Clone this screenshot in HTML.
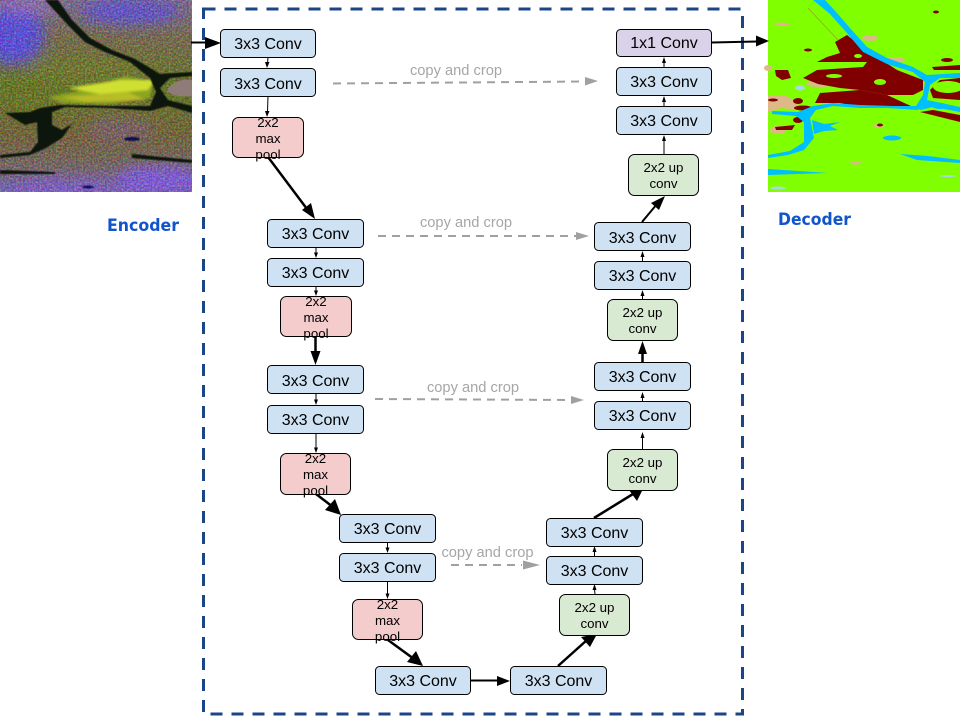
<!DOCTYPE html>
<html><head><meta charset="utf-8"><style>
html,body{margin:0;padding:0;background:#fff}
svg{display:block}
.b{fill:#cfe2f3;stroke:#000;stroke-width:1}
.p{fill:#f4cccc;stroke:#000;stroke-width:1}
.g{fill:#d9ead3;stroke:#000;stroke-width:1}
.u{fill:#d9d2e9;stroke:#000;stroke-width:1}
text{font-family:"Liberation Sans",sans-serif;text-anchor:middle;fill:#000}
.t{font-size:16px}
.s{font-size:13.3px}
.c{font-size:14.67px;fill:#a6a6a6}
.h{font-family:"DejaVu Sans",sans-serif;font-weight:bold;font-size:17px;fill:#1155cc;text-anchor:start}
.w{fill:none;stroke:#000}
.d{fill:none;stroke:#a0a0a0;stroke-width:2;stroke-dasharray:8 6}
</style></head><body>
<svg width="960" height="720" viewBox="0 0 960 720" xmlns="http://www.w3.org/2000/svg">
<defs>
<linearGradient id="eg" x1="0" y1="0" x2="0" y2="1">
<stop offset="0" stop-color="#806a98"/><stop offset=".2" stop-color="#7a6c48"/><stop offset=".45" stop-color="#667a18"/><stop offset=".7" stop-color="#746430"/><stop offset=".86" stop-color="#786660"/><stop offset="1" stop-color="#7c60c8"/>
</linearGradient>
<filter id="n" x="0" y="0" width="100%" height="100%" color-interpolation-filters="sRGB"><feTurbulence type="fractalNoise" baseFrequency=".55" numOctaves="2" seed="3"/><feColorMatrix values="3 0 0 0 -1.1 0 3 0 0 -1.1 0 0 3 0 -1.1 0 0 0 0 .24"/></filter>
<filter id="bl" x="-30%" y="-30%" width="160%" height="160%"><feGaussianBlur stdDeviation="7"/></filter>
<filter id="bs" x="-20%" y="-20%" width="140%" height="140%"><feGaussianBlur stdDeviation="1.2"/></filter>
<filter id="sm"><feGaussianBlur stdDeviation=".4"/></filter>
<clipPath id="ce"><rect x="0" y="0" width="192" height="192"/></clipPath>
</defs>

<!-- Encoder image -->
<g clip-path="url(#ce)">
<rect width="192" height="192" fill="url(#eg)"/>
<g filter="url(#bl)">
<ellipse cx="12" cy="35" rx="32" ry="30" fill="#5a48f0"/>
<ellipse cx="130" cy="12" rx="50" ry="12" fill="#6050e0"/>
<ellipse cx="30" cy="5" rx="30" ry="8" fill="#9a70c0"/>
<ellipse cx="160" cy="180" rx="45" ry="14" fill="#8458f0"/>
<ellipse cx="60" cy="188" rx="50" ry="6" fill="#8858e8"/>
<ellipse cx="120" cy="130" rx="35" ry="12" fill="#805e68"/>
<ellipse cx="90" cy="70" rx="60" ry="12" fill="#747c20"/>
<ellipse cx="30" cy="100" rx="25" ry="15" fill="#6a7818"/>
</g>
<rect width="192" height="192" filter="url(#n)"/>
<g filter="url(#bs)">
<path d="M48 97 L85 90 L125 76 L153 82 L150 98 L110 104 L62 103Z" fill="#90aa1c" opacity=".9"/>
<path d="M68 88 L120 80 L155 80 L148 90 L100 94Z" fill="#d0e030"/>
<path d="M62 97 L128 92 L145 100 L85 102Z" fill="#b8bc28"/>
</g>
<g fill="#0b1208" filter="url(#sm)">
<path d="M45 0 L58 0 L72 20 L90 38 L112 50 L135 59 L160 74 L192 72 L192 76 L170 78 L160 88 L168 100 L192 106 L192 113 L168 106 L150 111 L110 108 L65 107 L52 112 L52 125 L62 130 L72 124 L62 138 L46 148 L30 155 L0 158 L0 155 L30 152 L38 142 L37 122 L25 125 L5 113 L30 112 L40 108 L60 105 L110 106 L150 106 L156 92 L150 78 L130 62 L105 52 L85 42 L68 25Z"/>
<path d="M0 170 L55 172 L55 174 L0 174Z"/>
<path d="M132 154 L192 160 L192 163 L132 158Z"/>
<ellipse cx="132" cy="139" rx="8" ry="2" fill="#101050"/>
<ellipse cx="88" cy="187" rx="6" ry="1.500" fill="#101060"/>
</g>
<path d="M168 88 Q178 78 192 80 L192 96 Q176 98 168 92Z" fill="#8f7c78"/>
</g>

<!-- Decoder image -->
<g transform="translate(768,0)">
<rect width="192" height="192" fill="#80ff00"/>
<g fill="#deb887">
<path d="M0 96 L18 96 L30 102 L28 110 L14 108 L0 112Z"/>
<ellipse cx="10" cy="130" rx="8" ry="4"/>
<ellipse cx="125" cy="60" rx="12" ry="3"/>
<ellipse cx="102" cy="38" rx="8" ry="3"/>
<ellipse cx="110" cy="126" rx="5" ry="2"/>
<ellipse cx="52" cy="84" rx="14" ry="3"/>
<ellipse cx="14" cy="24" rx="8" ry="1.500"/>
<ellipse cx="0" cy="68" rx="4" ry="3"/>
<ellipse cx="88" cy="163" rx="6" ry="1.500"/>
</g>
<g fill="#800000">
<path d="M79 35 L89 43 L109 57 L129 70 L155 80 L155 90 L145 95 L119 95 L92 90 L72 88 L50 84 L35 78 L49 70 L79 68 L95 67 L99 62 L75 62 L49 62 L59 57 L72 53 L67 42Z"/>
<path d="M47 103 L52 93 L92 90 L119 95 L145 107 L119 108 L92 107 L72 103Z"/>
<path d="M7 70 L20 70 L23 78 L14 80 L8 76Z"/>
<path d="M162 90 L172 80 L192 78 L192 100 L165 98Z"/>
<path d="M152 112 L165 110 L192 115 L192 122 L172 117Z"/>
<path d="M164 67 L192 65 L192 70 L166 70Z"/>
<ellipse cx="30" cy="101" rx="5" ry="3"/>
<ellipse cx="35" cy="108" rx="9" ry="2.500"/>
<ellipse cx="30" cy="120" rx="5" ry="3"/>
<path d="M7 127 L27 125 L24 130 L8 130Z"/>
<ellipse cx="179" cy="60" rx="6" ry="2"/>
<ellipse cx="168" cy="12" rx="3" ry="1.500"/>
<ellipse cx="40" cy="50" rx="4" ry="1.500"/>
<ellipse cx="5" cy="100" rx="5" ry="1.500"/>
<ellipse cx="112" cy="125" rx="3" ry="1.500"/>
</g>
<g fill="#80ff00">
<ellipse cx="180" cy="87" rx="15" ry="6"/>
<ellipse cx="66" cy="76" rx="8" ry="2"/>
<ellipse cx="112" cy="82" rx="6" ry="3"/>
<ellipse cx="90" cy="56" rx="4" ry="2"/>
</g>
<g fill="#00bfff">
<path d="M45 0 L57 0 L69 13 L82 28 L99 47 L119 58 L145 67 L159 75 L192 73 L192 78 L172 78 L162 85 L159 100 L192 107 L192 112 L165 107 L152 110 L148 106 L155 95 L157 82 L145 72 L119 64 L95 52 L78 32 L62 14Z"/>
<path d="M4 111 L30 112 L45 106 L65 103 L92 105 L125 106 L152 106 L150 110 L119 108 L92 108 L65 106 L48 110 L42 118 L46 138 L36 150 L20 155 L0 158 L0 155 L22 151 L36 142 L36 122 L28 116 L4 114Z"/>
<path d="M44 120 L56 124 L72 122 L62 126 L70 130 L56 131 L46 134Z"/>
<path d="M132 154 L160 156 L192 160 L192 163 L149 160Z"/>
<path d="M0 169 L60 173 L0 175Z"/>
<ellipse cx="124" cy="138" rx="9" ry="2.500"/>
<ellipse cx="172" cy="106" rx="8" ry="3"/>
</g>
<ellipse cx="32" cy="88" rx="5" ry="2.500" fill="#a8d8e8"/>
<ellipse cx="10" cy="188" rx="8" ry="1.500" fill="#a8d8e8"/>
<ellipse cx="180" cy="176" rx="8" ry="1" fill="#a8d8e8"/>
<path d="M40 8 L70 40" stroke="#a08030" stroke-width=".8" fill="none" opacity=".7"/>
</g>

<!-- Dashed border -->
<rect x="203.500" y="9" width="539" height="705" fill="none" stroke="#1c4587" stroke-width="3" stroke-dasharray="12 9"/>

<!-- Copy and crop -->
<text class="c" x="456" y="75">copy and crop</text>
<text class="c" x="466" y="227">copy and crop</text>
<text class="c" x="473" y="392">copy and crop</text>
<text class="c" x="487.500" y="557">copy and crop</text>
<path class="d" d="M333 83.500 L586 81.500"/><path d="M598 81 L585 77 L585 85.500Z" fill="#a0a0a0"/>
<path class="d" d="M378 236 L577 236"/><path d="M589 236 L576 232 L576 240Z" fill="#a0a0a0"/>
<path class="d" d="M375 399 L572 400"/><path d="M584 400 L571 396 L571 404Z" fill="#a0a0a0"/>
<path class="d" d="M451 565 L522 565"/><path d="M540 565 L523 560.500 L523 569.500Z" fill="#a0a0a0"/>

<!-- Connectors -->
<g>
<path class="w" stroke-width="2" d="M191 42.500 L208 42.500"/><path d="M221 43 L205 37 L205 49Z"/>
<path class="w" d="M268 57 L267.500 64"/><path d="M267 68 L265 62 L269.500 62Z"/>
<path class="w" d="M268 96 L267.500 112"/><path d="M267 117 L265 111 L269.500 111Z"/>
<path class="w" stroke-width="2.500" d="M268 157 L307 209"/><path d="M315 219 L302 210 L311 203Z"/>
<path class="w" d="M316 247 L316 254"/><path d="M316 258 L314 252.500 L318 252.500Z"/>
<path class="w" d="M316 286 L316 292"/><path d="M316 296 L314 290.500 L318 290.500Z"/>
<path class="w" stroke-width="2.500" d="M315.500 336 L315.500 354"/><path d="M315.500 365 L310.500 351 L320.500 351Z"/>
<path class="w" d="M316 393 L316 401"/><path d="M316 405 L314 399.500 L318 399.500Z"/>
<path class="w" d="M316 433 L316 449"/><path d="M316 453 L314 447.500 L318 447.500Z"/>
<path class="w" stroke-width="2.500" d="M316 494 L333 507"/><path d="M341 515 L325 510 L335 499Z"/>
<path class="w" d="M387.500 542 L387.500 549"/><path d="M387.500 553 L385.500 547.500 L389.500 547.500Z"/>
<path class="w" d="M387.500 581 L387.500 595"/><path d="M387.500 599 L385.500 593.500 L389.500 593.500Z"/>
<path class="w" stroke-width="2.500" d="M388 640 L414 659"/><path d="M423 666 L407 662 L416 651Z"/>
<path class="w" stroke-width="2" d="M471 680.500 L499 680.500"/><path d="M510 681 L497 676 L497 686Z"/>
<path class="w" stroke-width="2.500" d="M558 666 L587 640"/><path d="M597 634 L590 647 L581 637Z"/>
<path class="w" d="M595 594 L594.500 589"/><path d="M594.500 584 L592.500 590 L596.500 590Z"/>
<path class="w" d="M594.500 556 L594.500 551"/><path d="M594.500 546 L592.500 552 L596.500 552Z"/>
<path class="w" stroke-width="2.500" d="M594 518 L633 494"/><path d="M643 489 L629 490 L637 501Z"/>
<path class="w" d="M642.500 449 L642.500 437"/><path d="M642.500 432 L640.500 438 L644.500 438Z"/>
<path class="w" d="M642.500 401 L642.500 397"/><path d="M642.500 392 L640.500 398 L644.500 398Z"/>
<path class="w" stroke-width="2.500" d="M642.500 362 L642.500 352"/><path d="M642.500 341 L638 354 L647 354Z"/>
<path class="w" d="M642.500 299 L642.500 295"/><path d="M642.500 290 L640.500 296 L644.500 296Z"/>
<path class="w" d="M642.500 261 L642.500 256"/><path d="M642.500 251 L640.500 257 L644.500 257Z"/>
<path class="w" stroke-width="2" d="M642 222 L657 204"/><path d="M665 196 L651 203 L659 210Z"/>
<path class="w" d="M664 154 L664 140"/><path d="M664 135 L662 141 L666 141Z"/>
<path class="w" d="M664 106 L664 101"/><path d="M664 96 L662 102 L666 102Z"/>
<path class="w" d="M664 67 L664 62"/><path d="M664 57 L662 63 L666 63Z"/>
<path class="w" stroke-width="2" d="M712 42.500 L757 41.500"/><path d="M769 41 L756 35.500 L756 46.500Z"/>
</g>

<!-- Boxes -->
<g>
<rect class="b" x="220.500" y="29.500" width="95" height="28" rx="4"/><rect class="b" x="220.500" y="68.500" width="95" height="28" rx="4"/>
<rect class="b" x="267.500" y="219.500" width="96" height="28" rx="4"/><rect class="b" x="267.500" y="258.500" width="96" height="28" rx="4"/>
<rect class="b" x="267.500" y="365.500" width="96" height="28" rx="4"/><rect class="b" x="267.500" y="405.500" width="96" height="28" rx="4"/>
<rect class="b" x="339.500" y="514.500" width="96" height="28" rx="4"/><rect class="b" x="339.500" y="553.500" width="96" height="28" rx="4"/>
<rect class="b" x="375.500" y="666.500" width="95" height="28" rx="4"/><rect class="b" x="510.500" y="666.500" width="96" height="28" rx="4"/>
<rect class="b" x="546.500" y="518.500" width="96" height="28" rx="4"/><rect class="b" x="546.500" y="556.500" width="96" height="28" rx="4"/>
<rect class="b" x="594.500" y="362.500" width="96" height="28" rx="4"/><rect class="b" x="594.500" y="401.500" width="96" height="28" rx="4"/>
<rect class="b" x="594.500" y="222.500" width="96" height="28" rx="4"/><rect class="b" x="594.500" y="261.500" width="96" height="28" rx="4"/>
<rect class="b" x="616.500" y="67.500" width="95" height="28" rx="4"/><rect class="b" x="616.500" y="106.500" width="95" height="28" rx="4"/>
<rect class="u" x="616.500" y="29.500" width="95" height="27" rx="4"/>
</g>
<g>
<rect class="p" x="232.500" y="117.500" width="71" height="40" rx="6"/>
<rect class="p" x="280.500" y="296.500" width="71" height="40" rx="6"/>
<rect class="p" x="280.500" y="453.500" width="70" height="41" rx="6"/>
<rect class="p" x="352.500" y="599.500" width="70" height="40" rx="6"/>
<rect class="g" x="559.500" y="594.500" width="70" height="41" rx="6"/>
<rect class="g" x="607.500" y="449.500" width="70" height="41" rx="6"/>
<rect class="g" x="607.500" y="299.500" width="70" height="41" rx="6"/>
<rect class="g" x="628.500" y="154.500" width="70" height="41" rx="6"/>
</g>

<!-- Labels -->
<g>
<text class="t" x="268" y="49">3x3 Conv</text><text class="t" x="268" y="89">3x3 Conv</text>
<text class="t" x="315.500" y="239">3x3 Conv</text><text class="t" x="315.500" y="278">3x3 Conv</text>
<text class="t" x="315.500" y="386">3x3 Conv</text><text class="t" x="315.500" y="425">3x3 Conv</text>
<text class="t" x="387.500" y="534">3x3 Conv</text><text class="t" x="387.500" y="573">3x3 Conv</text>
<text class="t" x="423" y="686">3x3 Conv</text><text class="t" x="558.500" y="686">3x3 Conv</text>
<text class="t" x="594.500" y="538">3x3 Conv</text><text class="t" x="594.500" y="576">3x3 Conv</text>
<text class="t" x="642.500" y="243">3x3 Conv</text><text class="t" x="642.500" y="281">3x3 Conv</text>
<text class="t" x="642.500" y="382">3x3 Conv</text><text class="t" x="642.500" y="421">3x3 Conv</text>
<text class="t" x="664" y="87">3x3 Conv</text><text class="t" x="664" y="126">3x3 Conv</text>
<text class="t" x="664" y="48">1x1 Conv</text>
</g>
<text class="s" x="268" y="127">2x2</text><text class="s" x="268" y="143">max</text><text class="s" x="268" y="159">pool</text>
<text class="s" x="316" y="306">2x2</text><text class="s" x="316" y="322">max</text><text class="s" x="316" y="338">pool</text>
<text class="s" x="315.500" y="463">2x2</text><text class="s" x="315.500" y="479">max</text><text class="s" x="315.500" y="495">pool</text>
<text class="s" x="387.500" y="609">2x2</text><text class="s" x="387.500" y="625">max</text><text class="s" x="387.500" y="641">pool</text>
<text class="s" x="594.500" y="612">2x2 up</text><text class="s" x="594.500" y="628">conv</text>
<text class="s" x="642.500" y="467">2x2 up</text><text class="s" x="642.500" y="483">conv</text>
<text class="s" x="642.500" y="317">2x2 up</text><text class="s" x="642.500" y="333">conv</text>
<text class="s" x="663.500" y="172">2x2 up</text><text class="s" x="663.500" y="188">conv</text>
<text class="h" x="107" y="231" textLength="72" lengthAdjust="spacingAndGlyphs">Encoder</text>
<text class="h" x="778" y="225" textLength="73" lengthAdjust="spacingAndGlyphs">Decoder</text>
</svg>
</body></html>
